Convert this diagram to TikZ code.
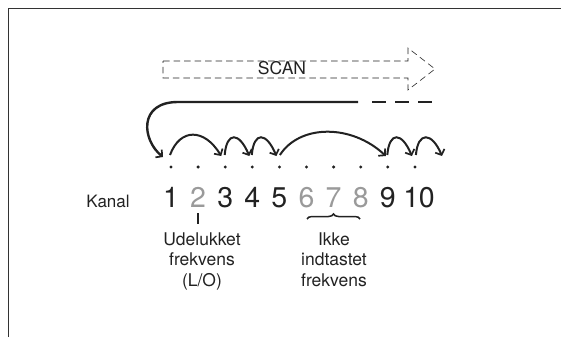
\documentclass[tikz,border=0pt]{standalone}
\usepackage{fontspec}
\setmainfont{TeX Gyre Heros}
\usetikzlibrary{arrows.meta,decorations.pathreplacing}
\definecolor{ink}{HTML}{222222}
\definecolor{fade}{HTML}{9A9A9A}
\definecolor{frame}{HTML}{333333}
\tikzset{
  hop/.style={draw=ink, line width=2pt, -{Straight Barb[length=4.5pt,width=10pt,line width=1.7pt]}},
  chan/.style={anchor=base, inner sep=0pt, font=\fontsize{28.5}{30}\selectfont, text=ink},
  chanoff/.style={chan, text=fade},
  lbl/.style={anchor=north, inner sep=0pt, align=center, font=\fontsize{17.5}{20.5}\selectfont, text=ink},
  pt/.style={circle, fill=ink, inner sep=0pt, minimum size=3.3pt},
}
\begin{document}
\begin{tikzpicture}[x=1pt,y=-1pt]
\useasboundingbox (0,0) rectangle (561,337);
% frame
\coordinate (fa) at (8.5,337);
\coordinate (fb) at (8.5,8.5);
\coordinate (fc) at (561,8.5);
\draw[frame, line width=1.6pt] (fa) -- (fb) -- (fc);
% SCAN dashed arrow
\coordinate (s1) at (163,61);
\coordinate (s2) at (408,61);
\coordinate (s3) at (408,48);
\coordinate (s4) at (435,69);
\coordinate (s5) at (408,90);
\coordinate (s6) at (408,78);
\coordinate (s7) at (163,78);
\draw[ink, line width=0.6pt, dash pattern=on 6.5pt off 4pt] (s1) -- (s2) -- (s3) -- (s4) -- (s5) -- (s6) -- (s7) -- cycle;
\node[anchor=base, inner sep=0pt, font=\fontsize{17.5}{20}\selectfont, text=ink] (scan) at (282,74) {SCAN};
% dots, numbers, arc bases
\foreach \i in {1,...,10} {
  \pgfmathsetmacro{\xx}{171+27.1*(\i-1)}
  \node[pt] (d\i) at (\xx,167) {};
  \coordinate (p\i) at (\xx,155);
}
\node[chan] (n1) at (171,207) {1};
\node[chanoff] (n2) at (198.1,207) {2};
\node[chan] (n3) at (225.2,207) {3};
\node[chan] (n4) at (252.3,207) {4};
\node[chan] (n5) at (279.4,207) {5};
\node[chanoff] (n6) at (306.5,207) {6};
\node[chanoff] (n7) at (333.6,207) {7};
\node[chanoff] (n8) at (360.7,207) {8};
\node[chan] (n9) at (387.8,207) {9};
\node[chan] (n10) at (419,207) {1\kern-0.5pt0};
\node[anchor=base, inner sep=0pt, font=\fontsize{17}{18}\selectfont, text=ink] (kanal) at (108,207) {Kanal};
% long return arrow
\coordinate (ra) at (358,102);
\coordinate (rb) at (178,102);
\coordinate (rc) at (372,102);
\coordinate (rd) at (432,102);
\coordinate (p11) at (442,155);
\draw[hop, line width=2.4pt] (ra) -- (rb) .. controls (138,102) and (142,140) .. ([xshift=-8pt,yshift=-2pt]p1);
\draw[ink, line width=2.6pt, dash pattern=on 14pt off 9pt] (rc) -- (rd);
% hops
\draw[hop] ([xshift=-1pt]p1) .. controls +(10,-27) and +(-17,-28) .. ([xshift=-4pt,yshift=-1pt]p3);
\foreach \a/\b in {3/4,4/5,9/10} {
  \draw[hop] ([xshift=-0.5pt]p\a) .. controls +(2,-24) and +(-10,-24) .. ([xshift=-3pt,yshift=-1pt]p\b);
}
\draw[hop] ([xshift=1pt]p10) .. controls +(2,-24) and +(-10,-24) .. ([yshift=-1pt]p11);
\draw[hop] ([xshift=0.5pt]p5) .. controls +(20,-31) and +(-34,-32) .. ([xshift=-2pt,yshift=-1pt]p9);
% excluded tick and brace
\coordinate (t1) at (198.1,213);
\coordinate (t2) at (198.1,224);
\draw[ink, line width=1.5pt] (t1) -- (t2);
\coordinate (b1) at (307,219);
\coordinate (b2) at (360,219);
\draw[ink, line width=1.5pt, decorate, decoration={brace, amplitude=5pt, mirror}] (b2) -- (b1);
% labels
\node[lbl] (lo) at (202,232.5) {Udelukket\\frekvens\\(L/O)};
\node[lbl] (ik) at (334,232.5) {Ikke\\indtastet\\frekvens};
\end{tikzpicture}
\end{document}
